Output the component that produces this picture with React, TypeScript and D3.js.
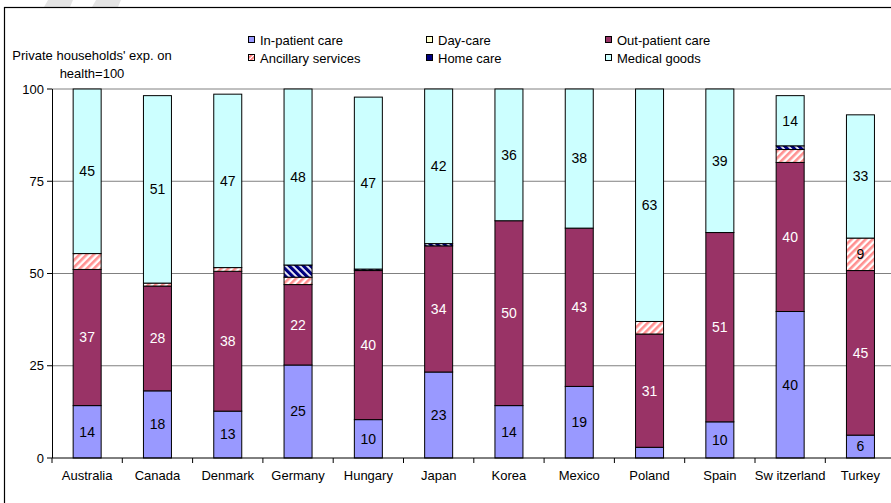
import React from "react";
import * as d3 from "d3";

const countries = ["Australia", "Canada", "Denmark", "Germany", "Hungary", "Japan", "Korea", "Mexico", "Poland", "Spain", "Sw itzerland", "Turkey"];
const inPatient = [14.2, 18.2, 12.7, 25.2, 10.4, 23.3, 14.2, 19.4, 2.9, 9.8, 39.7, 6.2];
const dayCare = [0, 0, 0, 0, 0, 0, 0, 0, 0, 0, 0, 0];
const outPatient = [36.9, 28.4, 37.9, 21.8, 40.4, 34.2, 50.1, 42.9, 30.7, 51.3, 40.4, 44.6];
const ancillary = [4.3, 0.8, 1.0, 2.0, 0, 0, 0, 0, 3.4, 0, 3.5, 8.8];
const homeCare = [0, 0, 0, 3.3, 0.4, 0.6, 0, 0, 0, 0, 1.0, 0];
const medicalGoods = [44.6, 50.8, 47.0, 47.7, 46.6, 41.9, 35.7, 37.7, 63.0, 38.9, 13.6, 33.4];
const seriesNames = ["In-patient care", "Day-care", "Out-patient care", "Ancillary services", "Home care", "Medical goods"];
const yTicks = [0, 25, 50, 75, 100];

const seriesValues = [inPatient, dayCare, outPatient, ancillary, homeCare, medicalGoods];
const fills = ["#9999FF", "#FFFFCC", "#993366", "url(#ancPat)", "url(#homePat)", "#CCFFFF"];
const legendFills = ["#9999FF", "#FFFFCC", "#993366", "url(#ancPatL)", "#000080", "#CCFFFF"];
const labelColors = ["#000", "#000", "#fff", "#000", "#fff", "#000"];

export default function App() {
  const W = 891, H = 503;
  const x = d3.scaleBand<string>().domain(countries).range([52, 52 + 12 * 70.3]).padding(0);
  const y = d3.scaleLinear().domain([0, 100]).range([458, 89]);
  const barW = 28;
  const keys = seriesNames;
  const rows = countries.map((c, i) => {
    const r: any = { country: c };
    keys.forEach((k, s) => (r[k] = seriesValues[s][i]));
    return r;
  });
  const stacked = d3.stack<any>().keys(keys)(rows);
  const font = "'Liberation Sans', Arial, sans-serif";

  const legendPos = [
    [249, 40], [427, 40], [606, 40],
    [249, 58], [427, 58], [606, 58],
  ];

  return (
    <svg width={W} height={H} style={{ position: "absolute", left: 0, top: 0, background: "#fff" }} fontFamily={font}>
      <defs>
        <pattern id="ancPat" patternUnits="userSpaceOnUse" width="5" height="5" patternTransform="rotate(45)">
          <rect width="5" height="5" fill="#fff" />
          <rect width="2.6" height="5" fill="#FF9090" />
        </pattern>
        <pattern id="ancPatL" patternUnits="userSpaceOnUse" width="3" height="3" patternTransform="rotate(45)">
          <rect width="3" height="3" fill="#fff" />
          <rect width="1.6" height="3" fill="#FF6060" />
        </pattern>
        <pattern id="homePat" patternUnits="userSpaceOnUse" width="5" height="5" patternTransform="rotate(-45)">
          <rect width="5" height="5" fill="#fff" />
          <rect width="3.2" height="5" fill="#000080" />
        </pattern>
      </defs>
      <rect x={0} y={0} width={W} height={H} fill="#fff" />
      {/* watermark shapes */}
      <polygon points="48,0 73,0 70,7 44,7" fill="#e4e4e4" />
      <polygon points="96,0 121,0 118,7 92,7" fill="#e4e4e4" />
      {/* frame */}
      <rect x={4.5} y={7.5} width={1000} height={1000} fill="none" stroke="#000" strokeWidth={1.2} />

      {/* gridlines */}
      {yTicks.filter((t) => t > 0).map((t) => (
        <line key={t} x1={52} x2={W} y1={y(t)} y2={y(t)} stroke="#808080" strokeWidth={1} />
      ))}

      {/* bars */}
      {stacked.map((layer, s) =>
        layer.map((d, i) => {
          const v = d[1] - d[0];
          if (v <= 0) return null;
          const cx = (x(countries[i]) as number) + x.bandwidth() / 2;
          return (
            <rect key={`${s}-${i}`} x={cx - barW / 2} y={y(d[1])} width={barW} height={y(d[0]) - y(d[1])}
              fill={fills[s]} stroke="#000" strokeWidth={1} />
          );
        })
      )}

      {/* labels */}
      {stacked.map((layer, s) =>
        layer.map((d, i) => {
          const v = d[1] - d[0];
          if (v < 5) return null;
          const cx = (x(countries[i]) as number) + x.bandwidth() / 2;
          return (
            <text key={`l${s}-${i}`} x={cx} y={(y(d[0]) + y(d[1])) / 2} dy="0.35em" textAnchor="middle"
              fontSize={14} fill={labelColors[s]}>
              {Math.round(v)}
            </text>
          );
        })
      )}

      {/* y axis */}
      <line x1={52.5} x2={52.5} y1={y(100)} y2={y(0)} stroke="#000" strokeWidth={1} />
      {yTicks.map((t) => (
        <g key={t}>
          <line x1={47} x2={52} y1={y(t)} y2={y(t)} stroke="#000" strokeWidth={1} />
          <text x={44} y={y(t)} dy="0.35em" textAnchor="end" fontSize={13} fill="#000">{t}</text>
        </g>
      ))}
      {/* x axis */}
      <line x1={52} x2={W} y1={y(0)} y2={y(0)} stroke="#000" strokeWidth={1} />
      {countries.map((c, i) => (
        <line key={`t${i}`} x1={(x(c) as number)} x2={(x(c) as number)} y1={y(0)} y2={y(0) + 5} stroke="#000" strokeWidth={1} />
      ))}
      {countries.map((c) => (
        <text key={c} x={(x(c) as number) + x.bandwidth() / 2} y={480} textAnchor="middle" fontSize={13} fill="#000">{c}</text>
      ))}

      {/* y title */}
      <text x={92} y={55} dy="0.35em" textAnchor="middle" fontSize={13} fill="#000">Private households' exp. on</text>
      <text x={92} y={73} dy="0.35em" textAnchor="middle" fontSize={13} fill="#000">health=100</text>

      {/* legend */}
      {seriesNames.map((n, s) => (
        <g key={n}>
          <rect x={legendPos[s][0] - 0.5} y={legendPos[s][1] - 3.5} width={6} height={6} fill={legendFills[s]} stroke="#000" strokeWidth={1} />
          <text x={legendPos[s][0] + 11} y={legendPos[s][1]} dy="0.35em" fontSize={13} fill="#000">{n}</text>
        </g>
      ))}
    </svg>
  );
}
